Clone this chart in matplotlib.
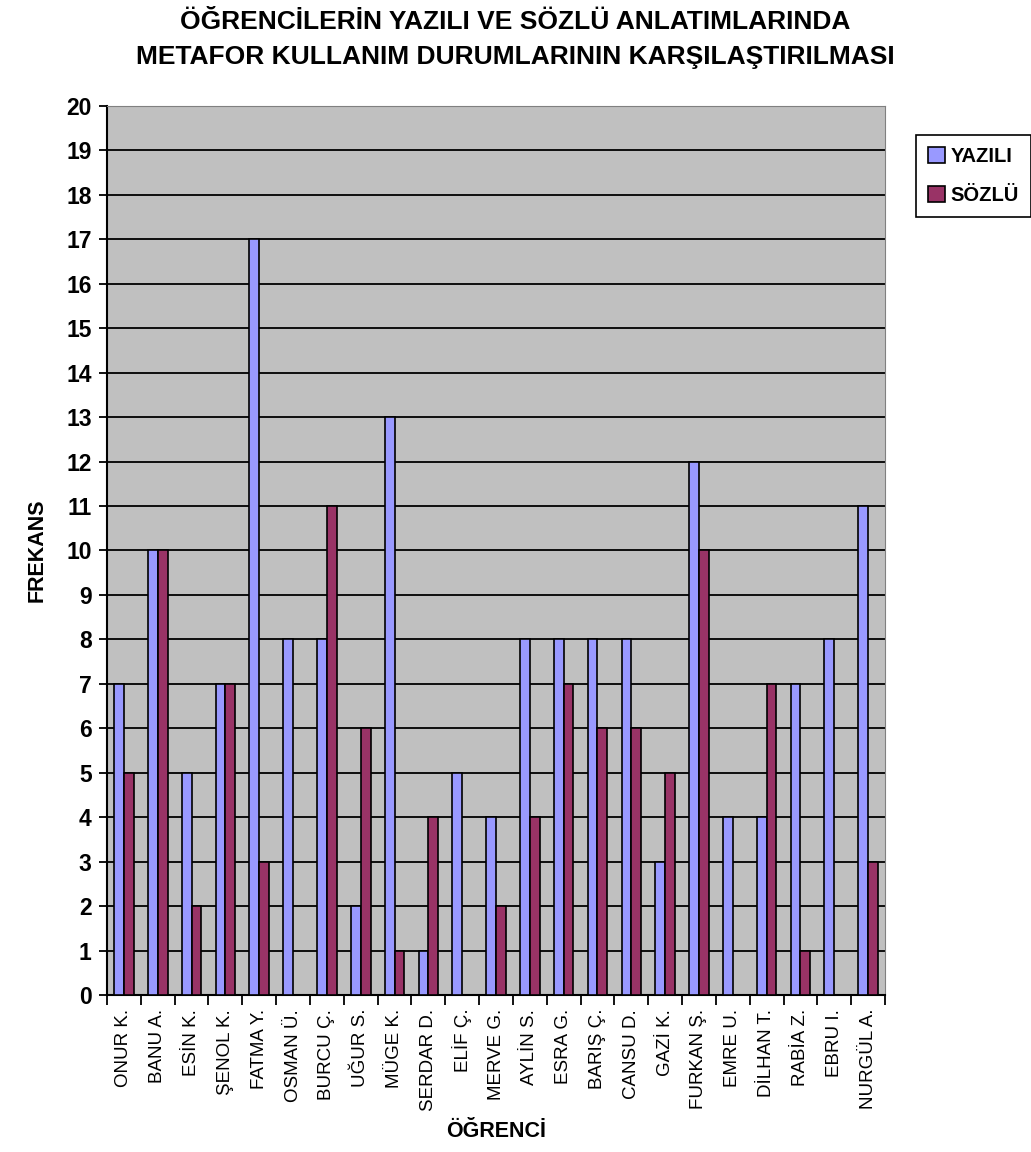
import matplotlib.pyplot as plt
import numpy as np

plt.rcParams['font.family'] = ['Liberation Sans', 'DejaVu Sans']

students = ['ONUR K.', 'BANU A.', 'ESİN K.', 'ŞENOL K.', 'FATMA Y.', 'OSMAN Ü.',
            'BURCU Ç.', 'UĞUR S.', 'MÜGE K.', 'SERDAR D.', 'ELİF Ç.', 'MERVE G.',
            'AYLİN S.', 'ESRA G.', 'BARIŞ Ç.', 'CANSU D.', 'GAZİ K.', 'FURKAN Ş.',
            'EMRE U.', 'DİLHAN T.', 'RABİA Z.', 'EBRU I.', 'NURGÜL A.']
yazili = [7, 10, 5, 7, 17, 8, 8, 2, 13, 1, 5, 4, 8, 8, 8, 8, 3, 12, 4, 4, 7, 8, 11]
sozlu = [5, 10, 2, 7, 3, 0, 11, 6, 1, 4, 0, 2, 4, 7, 6, 6, 5, 10, 0, 7, 1, 0, 3]

fig = plt.figure(figsize=(10.31, 11.52), dpi=100)
ax = fig.add_axes([0.1038, 0.1363, 0.7546, 0.7717])
ax.set_facecolor('#C0C0C0')

x = np.arange(len(students))
w = 0.29
ax.bar(x - w / 2, yazili, w, color='#9999FF', edgecolor='black', linewidth=1.2, label='YAZILI', zorder=3)
ax.bar(x + w / 2, sozlu, w, color='#993366', edgecolor='black', linewidth=1.2, label='SÖZLÜ', zorder=3)

ax.set_xlim(-0.5, len(students) - 0.5)
ax.set_ylim(0, 20)
ax.set_yticks(range(0, 21))
ax.set_yticklabels([str(i) for i in range(0, 21)], fontsize=16.5, fontweight='bold')
ax.yaxis.grid(True, color='black', linewidth=1.3, zorder=1)
ax.set_axisbelow(True)

ax.set_xticks(np.arange(-0.5, len(students), 1.0))
ax.set_xticklabels([])
ax.set_xticks(x, minor=True)
ax.set_xticklabels(students, minor=True, rotation=90, fontsize=13.5, va='top')
ax.tick_params(axis='x', which='minor', length=0, pad=10)
ax.tick_params(axis='x', which='major', length=7, width=1.3)
ax.tick_params(axis='y', length=6, width=1.3, pad=5)

for s in ['top', 'right']:
    ax.spines[s].set_color('#808080')
for s in ['left', 'bottom']:
    ax.spines[s].set_linewidth(1.5)

ax.set_ylabel('FREKANS', fontsize=15.5, fontweight='bold', labelpad=13)
ax.set_xlabel('ÖĞRENCİ', fontsize=15.5, fontweight='bold', labelpad=7)

fig.suptitle('ÖĞRENCİLERİN YAZILI VE SÖZLÜ ANLATIMLARINDA\nMETAFOR KULLANIM DURUMLARININ KARŞILAŞTIRILMASI',
             x=0.5, y=0.991, fontsize=19, fontweight='bold', linespacing=1.55)

leg = fig.legend(loc='upper left', bbox_to_anchor=(0.888, 0.883), fancybox=False, framealpha=1,
                 edgecolor='black', prop={'size': 14.5, 'weight': 'bold'}, handlelength=0.85,
                 handleheight=0.85, handletextpad=0.3, borderpad=0.6, labelspacing=1.0,
                 borderaxespad=0)
leg.get_frame().set_linewidth(1.2)

plt.savefig('out.png', dpi=100)
